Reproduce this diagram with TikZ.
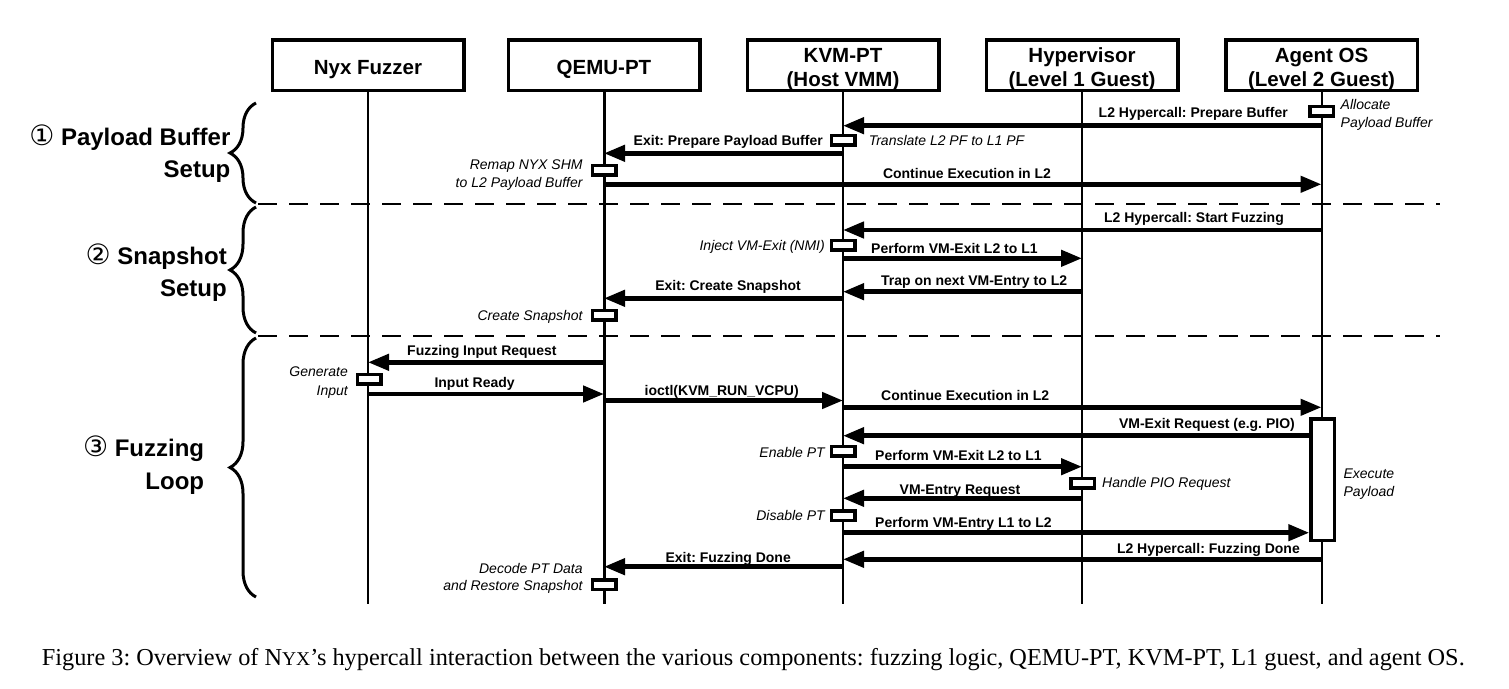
\documentclass[tikz,border=0pt]{standalone}
\usepackage{fontspec}
\setmainfont{Liberation Sans}
\newfontfamily\capfont{Liberation Serif}
\newfontfamily\circfont{DejaVu Sans}
\usetikzlibrary{arrows.meta,decorations.pathreplacing}
\frenchspacing
\tikzset{
 hdr/.style={draw, line width=3.5pt, minimum width=191.5pt, minimum height=50.5pt, inner sep=0pt},
 hdrtext/.style={font=\fontsize{20.5}{24}\selectfont\bfseries, inner sep=0pt, anchor=base},
 life/.style={line width=2pt},
 msg/.style={line width=4.5pt, -{Triangle[length=21pt,width=16pt]}},
 lbl/.style={font=\fontsize{14}{16}\selectfont\bfseries, inner sep=0pt},
 note/.style={font=\fontsize{14}{16}\selectfont\itshape, inner sep=0pt},
 actbox/.style={draw, line width=3.5pt, fill=white, minimum width=23.5pt, minimum height=9.5pt, inner sep=0pt},
 sect/.style={font=\fontsize{24}{28}\selectfont\bfseries, inner sep=0pt},
 sepline/.style={line width=2pt, dash pattern=on 19pt off 12pt},
 bracestyle/.style={line width=3pt, decorate, decoration={brace, amplitude=26pt}},
}
\newcommand{\circnum}[1]{{\circfont\mdseries\fontsize{28}{30}\selectfont #1}}
\begin{document}
\begin{tikzpicture}[x=1pt,y=-1pt]
\useasboundingbox (0,0) rectangle (1509,688);
% headers
\node[hdr] (nyx) at (368,65.3) {};
\node[hdr] (qemu) at (604,65.3) {};
\node[hdr] (kvm) at (843,65.3) {};
\node[hdr] (hyp) at (1082,65.3) {};
\node[hdr] (agent) at (1321.5,65.3) {};
\node[hdrtext] (nyxt) at (368,74) {Nyx Fuzzer};
\node[hdrtext] (qemut) at (604,74) {QEMU-PT};
\node[hdrtext] (kvmt1) at (843,62.4) {KVM-PT};
\node[hdrtext] (kvmt2) at (843,86.4) {(Host VMM)};
\node[hdrtext] (hypt1) at (1082,62.4) {Hypervisor};
\node[hdrtext] (hypt2) at (1082,86.4) {(Level 1 Guest)};
\node[hdrtext] (agentt1) at (1321.5,62.4) {Agent OS};
\node[hdrtext] (agentt2) at (1321.5,86.4) {(Level 2 Guest)};
\coordinate (bot) at (0,604);
% lifelines
\draw[life] (nyx.south) -- (nyx.south |- bot);
\draw[life,line width=3pt] (qemu.south) -- (qemu.south |- bot);
\draw[life,line width=2.5pt] (kvm.south) -- (kvm.south |- bot);
\draw[life] (hyp.south) -- (hyp.south |- bot);
\draw[life] (agent.south) -- (agent.south |- bot);
% separators
\coordinate (sepa) at (258,204); \coordinate (sepb) at (1440,204);
\coordinate (sepc) at (258,335.7); \coordinate (sepd) at (1440,335.7);
\draw[sepline] (sepa) -- (sepb);
\draw[sepline] (sepc) -- (sepd);
% braces
\coordinate (b1a) at (256,203); \coordinate (b1b) at (256,103);
\coordinate (b2a) at (256,333); \coordinate (b2b) at (256,207);
\coordinate (b3a) at (256,597); \coordinate (b3b) at (256,338);
\draw[bracestyle] (b1a) -- (b1b);
\draw[bracestyle] (b2a) -- (b2b);
\draw[bracestyle] (b3a) -- (b3b);
% section labels
\node[sect, anchor=base east] (s1a) at (230.6,145) {\circnum{①} Payload Buffer};
\node[sect, anchor=base east] (s1b) at (230.6,177.8) {Setup};
\node[sect, anchor=base east] (s2a) at (227,264.5) {\circnum{②} Snapshot};
\node[sect, anchor=base east] (s2b) at (227,296.8) {Setup};
\node[sect, anchor=base east] (s3a) at (204.3,456) {\circnum{③} Fuzzing};
\node[sect, anchor=base east] (s3b) at (204.3,489.5) {Loop};
% activation boxes (named first for arrows)
\node[actbox] (ag1) at (1321.5,111.2) {};
\node[actbox, minimum height=121.5pt] (ag2) at (1322.8,479.8) {};
% message rows
\coordinate (r1) at (0,125.7);
\coordinate (r2) at (0,153.3);
\coordinate (r3) at (0,184.3);
\coordinate (r4) at (0,230);
\coordinate (r5) at (0,258.3);
\coordinate (r6) at (0,291.7);
\coordinate (r7) at (0,298.3);
\coordinate (r8) at (0,362.3);
\coordinate (r9) at (0,394);
\coordinate (r10) at (0,400.5);
\coordinate (r11) at (0,407.3);
\coordinate (r12) at (0,435.7);
\coordinate (r13) at (0,466.7);
\coordinate (r14) at (0,498.3);
\coordinate (r15) at (0,532.7);
\coordinate (r16) at (0,559.3);
\coordinate (r17) at (0,566.7);
\draw[msg] (agent |- r1) -- (kvm |- r1);
\draw[msg] (kvm |- r2) -- (qemu |- r2);
\draw[msg] (qemu |- r3) -- (agent |- r3);
\draw[msg] (agent |- r4) -- (kvm |- r4);
\draw[msg] (kvm |- r5) -- (hyp |- r5);
\draw[msg] (hyp |- r6) -- (kvm |- r6);
\draw[msg] (kvm |- r7) -- (qemu |- r7);
\draw[msg] (qemu |- r8) -- (nyx |- r8);
\draw[msg] (nyx |- r9) -- (qemu |- r9);
\draw[msg] (qemu |- r10) -- (kvm |- r10);
\draw[msg] (kvm |- r11) -- (agent |- r11);
\draw[msg] (ag2.west |- r12) -- (kvm |- r12);
\draw[msg] (kvm |- r13) -- (hyp |- r13);
\draw[msg] (hyp |- r14) -- (kvm |- r14);
\draw[msg] (kvm |- r15) -- (ag2.west |- r15);
\draw[msg] (agent |- r16) -- (kvm |- r16);
\draw[msg] (kvm |- r17) -- (qemu |- r17);
% redraw activation boxes on top
\node[actbox] at (ag1) {};
\node[actbox, minimum height=121.5pt] at (ag2) {};
\node[actbox] (k1) at (843,140) {};
\node[actbox] (q1) at (604,170.3) {};
\node[actbox] (k2) at (843,245) {};
\node[actbox] (q2) at (604,315) {};
\node[actbox] (n1) at (369,379.2) {};
\node[actbox] (k3) at (843,451.3) {};
\node[actbox] (h1) at (1082.5,483.3) {};
\node[actbox] (k4) at (843,515.5) {};
\node[actbox] (q3) at (604,584.7) {};
% message labels
\node[lbl, anchor=base east] (l1) at (1288,117) {L2 Hypercall: Prepare Buffer};
\node[lbl, anchor=base east] (l2) at (823,145) {Exit: Prepare Payload Buffer};
\node[lbl, anchor=base] (l3) at (967,178.3) {Continue Execution in L2};
\node[lbl, anchor=base east] (l4) at (1284,222.3) {L2 Hypercall: Start Fuzzing};
\node[lbl, anchor=base west] (l5) at (871,253.3) {Perform VM-Exit L2 to L1};
\node[lbl, anchor=base west] (l6) at (881,285) {Trap on next VM-Entry to L2};
\node[lbl, anchor=base east] (l7) at (801,290) {Exit: Create Snapshot};
\node[lbl, anchor=base west] (l8) at (407,355.7) {Fuzzing Input Request};
\node[lbl, anchor=base] (l9) at (474.6,387.7) {Input Ready};
\node[lbl, anchor=base] (l10) at (721.7,395) {ioctl(KVM\_RUN\_VCPU)};
\node[lbl, anchor=base west] (l11) at (881,400) {Continue Execution in L2};
\node[lbl, anchor=base east] (l12) at (1295,428.3) {VM-Exit Request (e.g. PIO)};
\node[lbl, anchor=base west] (l13) at (875,460.3) {Perform VM-Exit L2 to L1};
\node[lbl, anchor=base] (l14) at (960,494.3) {VM-Entry Request};
\node[lbl, anchor=base west] (l15) at (875,527.3) {Perform VM-Entry L1 to L2};
\node[lbl, anchor=base east] (l16) at (1300,553.3) {L2 Hypercall: Fuzzing Done};
\node[lbl, anchor=base east] (l17) at (791,562.3) {Exit: Fuzzing Done};
% notes
\node[note, anchor=base west] (m1) at (1340.5,109.7) {Allocate};
\node[note, anchor=base west] (m2) at (1340.5,127) {Payload Buffer};
\node[note, anchor=base west] (m3) at (868.6,145) {Translate L2 PF to L1 PF};
\node[note, anchor=base east] (m4) at (582.8,169.3) {Remap NYX SHM};
\node[note, anchor=base east] (m5) at (582.8,187.3) {to L2 Payload Buffer};
\node[note, anchor=base east] (m6) at (825,250) {Inject VM-Exit (NMI)};
\node[note, anchor=base east] (m7) at (582.8,320.7) {Create Snapshot};
\node[note, anchor=base east] (m8) at (348,376.7) {Generate};
\node[note, anchor=base east] (m9) at (348,395) {Input};
\node[note, anchor=base east] (m10) at (825,457.3) {Enable PT};
\node[note, anchor=base west] (m11) at (1102,487.3) {Handle PIO Request};
\node[note, anchor=base east] (m12) at (825,520) {Disable PT};
\node[note, anchor=base west] (m13) at (1343.4,478.3) {Execute};
\node[note, anchor=base west] (m14) at (1343.4,496.7) {Payload};
\node[note, anchor=base east] (m15) at (582.8,573.3) {Decode PT Data};
\node[note, anchor=base east] (m16) at (582.8,590.7) {and Restore Snapshot};
% caption
\node[font=\capfont\fontsize{24.3}{28}\selectfont, anchor=base west, inner sep=0pt] (cap) at (41.7,665) {Figure 3: Overview of N{\fontsize{19.5}{22}\selectfont YX}’s hypercall interaction between the various components: fuzzing logic, QEMU-PT, KVM-PT, L1 guest, and agent OS.};
\end{tikzpicture}
\end{document}
